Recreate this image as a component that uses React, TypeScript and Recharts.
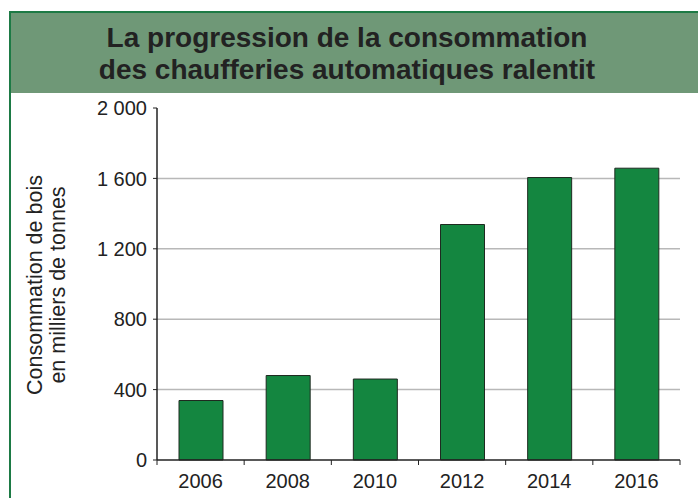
import React from 'react';
import { BarChart, Bar, XAxis, YAxis, CartesianGrid } from 'recharts';

const years = ['2006', '2008', '2010', '2012', '2014', '2016'];
const consumption = [338, 480, 460, 1338, 1605, 1658];
const yTicks = [0, 400, 800, 1200, 1600, 2000];
const gridValues = [400, 800, 1200, 1600];

const titleLines = ['La progression de la consommation', 'des chaufferies automatiques ralentit'];
const yLabelLines = ['Consommation de bois', 'en milliers de tonnes'];

const data = years.map((year, i) => ({ year, value: consumption[i] }));

const W = 698;
const H = 498;
const margin = { top: 108, right: 18, bottom: 0, left: 0 };
const yAxisWidth = 157;
const xAxisHeight = 38;
const plotWidth = W - margin.left - margin.right - yAxisWidth;
const band = plotWidth / years.length;

const font = '"Liberation Sans", Arial, sans-serif';
const textColor = '#222';

const formatThousands = (v: number) => (v >= 1000 ? `${Math.floor(v / 1000)} ${String(v % 1000).padStart(3, '0')}` : String(v));

const XTick = (props: any) => {
  const { x, y, payload, index } = props;
  const axisY = y - 8;
  const isLast = index === years.length - 1;
  return (
    <g>
      <line x1={x - band / 2} x2={x - band / 2} y1={axisY} y2={axisY + 5} stroke="#222" />
      {isLast && <line x1={x + band / 2} x2={x + band / 2} y1={axisY} y2={axisY + 5} stroke="#222" />}
      <text x={x} y={axisY + 28} textAnchor="middle" fill={textColor} fontSize={20} fontFamily={font}>
        {payload.value}
      </text>
    </g>
  );
};

const YLabel = (props: any) => {
  const cy = margin.top + (H - margin.top - xAxisHeight) / 2 + 1;
  return (
    <g fontFamily={font} fontSize={21.5} fill={textColor}>
      {yLabelLines.map((line, i) => {
        const cx = 35 + i * 23;
        return (
          <text key={i} x={cx} y={cy} textAnchor="middle" dominantBaseline="central" transform={`rotate(-90 ${cx} ${cy})`}>
            {line}
          </text>
        );
      })}
    </g>
  );
};

export default function App() {
  return (
    <div style={{ position: 'absolute', left: 0, top: 0, width: W, height: H, background: '#fff', overflow: 'hidden' }}>
      <div
        style={{
          position: 'absolute',
          left: 9,
          top: 11,
          width: W,
          height: H,
          border: '2px solid #1d7a45',
          boxSizing: 'border-box',
        }}
      />
      <div
        style={{
          position: 'absolute',
          left: 11,
          top: 13,
          width: W - 11,
          height: 80,
          background: '#6f9877',
        }}
      />
      <div
        style={{
          position: 'absolute',
          left: 0,
          top: 22,
          width: 694,
          textAlign: 'center',
          fontFamily: font,
          fontWeight: 'bold',
          fontSize: 28,
          lineHeight: '32px',
          color: '#222',
        }}
      >
        {titleLines.map((l, i) => (
          <div key={i}>{l}</div>
        ))}
      </div>
      <div style={{ position: 'absolute', left: 0, top: 0 }}>
        <BarChart width={W} height={H} data={data} margin={margin}>
          <CartesianGrid horizontal vertical={false} horizontalValues={gridValues} stroke="#b8b8b8" strokeWidth={1.5} />
          <XAxis
            dataKey="year"
            height={xAxisHeight}
            axisLine={{ stroke: '#222', strokeWidth: 1.5 }}
            tickLine={false}
            tick={<XTick />}
            interval={0}
          />
          <YAxis
            width={yAxisWidth}
            domain={[0, 2000]}
            ticks={yTicks}
            tickFormatter={formatThousands}
            axisLine={{ stroke: '#222', strokeWidth: 1.5 }}
            tickLine={{ stroke: '#222' }}
            tickSize={4}
            tickMargin={6}
            tick={{ fill: textColor, fontSize: 20, fontFamily: font }}
            label={<YLabel />}
          />
          <Bar dataKey="value" fill="#148640" stroke="#1e2a20" strokeWidth={1} barSize={44} isAnimationActive={false} />
        </BarChart>
      </div>
    </div>
  );
}
